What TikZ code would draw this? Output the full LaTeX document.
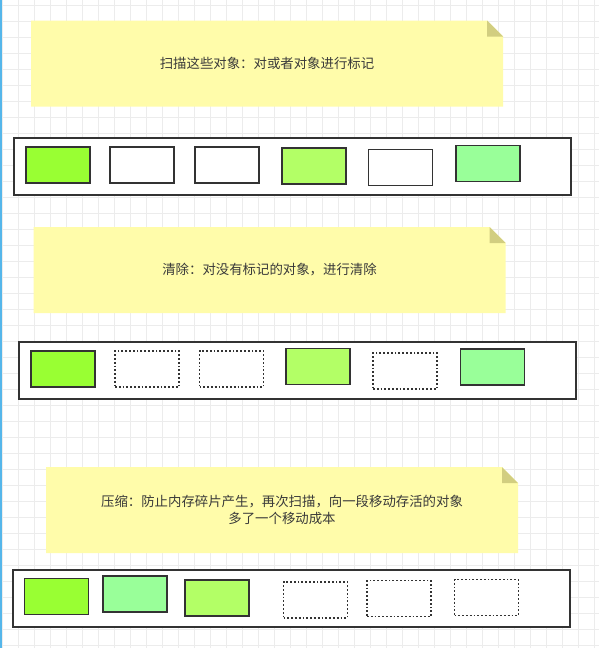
\documentclass[tikz,border=0pt]{standalone}
\usepackage{fontspec}
\newfontfamily\cjk{Noto Sans CJK SC}
\definecolor{notefill}{HTML}{FFFCAA}
\definecolor{foldfill}{HTML}{D2CE80}
\definecolor{linec}{HTML}{333333}
\definecolor{txt}{HTML}{3A3A3A}
\definecolor{gridc}{HTML}{ECECEC}
\definecolor{edgec}{HTML}{55B6EA}
\definecolor{lime}{HTML}{99FF33}
\definecolor{yellowgreen}{HTML}{B3FF66}
\definecolor{palegreen}{HTML}{99FF99}
\begin{document}
\begin{tikzpicture}[x=1pt, y=-1pt,
		note/.style={minimum width=472pt, minimum height=86pt, inner sep=0pt, align=center,
			text=txt, font=\cjk\fontsize{13.4}{17}\selectfont,
			path picture={
				\fill[notefill] (path picture bounding box.north west)
					-- ([xshift=-16pt]path picture bounding box.north east)
					-- ([yshift=-16pt]path picture bounding box.north east)
					-- (path picture bounding box.south east)
					-- (path picture bounding box.south west) -- cycle;
				\fill[foldfill] ([xshift=-16pt]path picture bounding box.north east)
					-- ([yshift=-16pt]path picture bounding box.north east)
					-- ([xshift=-16pt, yshift=-16pt]path picture bounding box.north east) -- cycle;
			}},
		heap/.style={draw=linec, line width=1.6pt, fill=white, minimum width=557pt, minimum height=57pt},
		obj/.style={draw=linec, line width=1.7pt, minimum width=64pt, minimum height=36pt, inner sep=0pt},
		gone/.style={draw=linec, line width=1.8pt, dash pattern=on 1.8pt off 2pt, minimum width=64pt, minimum height=36pt, inner sep=0pt}]
	\useasboundingbox (0,0) rectangle (599,648);
	\fill[white] (0,0) rectangle (599,648);
	% grid
	\foreach \gx in {2,18,...,598} \draw[gridc, line width=0.6pt] (\gx,0) -- (\gx,648);
	\foreach \gy in {5,21,...,645} \draw[gridc, line width=0.6pt] (0,\gy) -- (599,\gy);
	\draw[edgec, line width=1.5pt] (1,0) -- (1,648);

	% mark
	\node[note] (n1) at (267,63.5) {扫描这些对象：对或者对象进行标记};
	\node[heap] (h1) at (292.5,166.5) {};
	\node[obj, fill=lime] (a1) at (58,165) {};
	\node[obj, fill=white] (a2) at (142,165) {};
	\node[obj, fill=white] (a3) at (227,165) {};
	\node[obj, fill=yellowgreen] (a4) at (314,166) {};
	\node[obj, fill=white] (a5) at (400.5,167.5) {};
	\node[obj, fill=palegreen] (a6) at (488,163.5) {};

	% sweep
	\node[note] (n2) at (269.5,270) {清除：对没有标记的对象，进行清除};
	\node[heap] (h2) at (297.5,370.5) {};
	\node[obj, fill=lime] (b1) at (63,369) {};
	\node[gone] (b2) at (147,369) {};
	\node[gone] (b3) at (231.5,369) {};
	\node[obj, fill=yellowgreen] (b4) at (318,366.5) {};
	\node[gone] (b5) at (405,371) {};
	\node[obj, fill=palegreen] (b6) at (492.5,367) {};

	% compact
	\node[note] (n3) at (282,510) {压缩：防止内存碎片产生，再次扫描，向一段移动存活的对象\\多了一个移动成本};
	\node[heap] (h3) at (291.5,598.5) {};
	\node[obj, fill=lime] (c1) at (56.5,596.5) {};
	\node[obj, fill=palegreen] (c2) at (135,594) {};
	\node[obj, fill=yellowgreen] (c3) at (217,598) {};
	\node[gone] (c4) at (315.5,600) {};
	\node[gone] (c5) at (399,598.5) {};
	\node[gone] (c6) at (486.5,597.5) {};
\end{tikzpicture}
\end{document}
